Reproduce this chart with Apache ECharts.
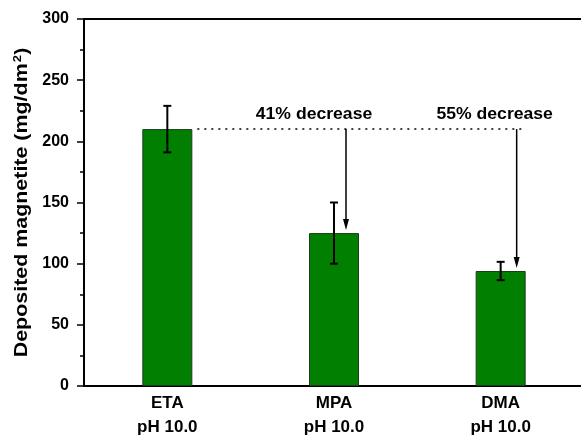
<!DOCTYPE html>
<html>
<head>
<meta charset="utf-8">
<script src="https://cdn.jsdelivr.net/npm/echarts@6/dist/echarts.min.js"></script>
<style>
html,body{margin:0;padding:0;background:#fff;}
#chart{width:581px;height:439px;}
</style>
</head>
<body>
<div id="chart"></div>
<script>
var categories = ['ETA', 'MPA', 'DMA'];
var phLabels = ['pH 10.0', 'pH 10.0', 'pH 10.0'];
var values = [210, 125, 94];
var errors = [19, 25, 7.5];
var annotations = ['41% decrease', '55% decrease'];
var yTicks = [0, 50, 100, 150, 200, 250, 300];
var yTitle = 'Deposited magnetite (mg/dm{sup|2})';

var FONT = '"Liberation Sans", Arial, Helvetica, sans-serif';
var chart = echarts.init(document.getElementById('chart'), null, {renderer: 'canvas'});

var catLabels = categories.map(function (c, i) { return c + '\n' + phLabels[i]; });
var errData = values.map(function (v, i) { return [i, v - errors[i], v + errors[i]]; });

var option = {
  animation: false,
  backgroundColor: '#fff',
  grid: {left: 84, top: 19, width: 500, bottom: 53, outerBoundsMode: 'none', containLabel: false,
    show: true, borderColor: '#000', borderWidth: 2, backgroundColor: 'transparent'},
  xAxis: {
    type: 'category',
    data: catLabels,
    boundaryGap: true,
    axisLine: {lineStyle: {color: '#000', width: 2}},
    axisTick: {show: false},
    axisLabel: {color: '#000', fontFamily: FONT, fontWeight: 'bold', fontSize: 17, lineHeight: 24, margin: 5}
  },
  yAxis: {
    type: 'value',
    min: yTicks[0], max: yTicks[yTicks.length - 1], interval: 50,
    axisLine: {show: true, lineStyle: {color: '#000', width: 2}},
    axisTick: {show: true, inside: false, length: 7, lineStyle: {color: '#000', width: 1.5}},
    minorTick: {show: true, splitNumber: 2, length: 4, lineStyle: {color: '#000', width: 1.5}},
    splitLine: {show: false},
    axisLabel: {color: '#000', fontFamily: FONT, fontWeight: 'bold', fontSize: 16, margin: 15}
  },
  series: [
    {
      type: 'bar',
      data: values,
      barWidth: 50,
      itemStyle: {color: '#007F00', borderColor: '#1a3d1a', borderWidth: 1},
      z: 2
    },
    {
      type: 'custom',
      data: errData,
      z: 5,
      renderItem: function (params, api) {
        var x = api.value(0);
        var lo = api.coord([x, api.value(1)]);
        var hi = api.coord([x, api.value(2)]);
        var cw = 4;
        var st = {stroke: '#000', lineWidth: 2};
        return {
          type: 'group',
          children: [
            {type: 'line', shape: {x1: lo[0], y1: lo[1], x2: hi[0], y2: hi[1]}, style: st},
            {type: 'line', shape: {x1: lo[0] - cw, y1: lo[1], x2: lo[0] + cw, y2: lo[1]}, style: st},
            {type: 'line', shape: {x1: hi[0] - cw, y1: hi[1], x2: hi[0] + cw, y2: hi[1]}, style: st}
          ]
        };
      }
    }
  ]
};
chart.setOption(option);

// annotations
var ref = values[0];
function px(i, v) { return chart.convertToPixel({xAxisIndex: 0, yAxisIndex: 0}, [i, v]); }
var pRef = px(0, ref);
var p1 = px(1, values[1]);
var p2 = px(2, values[2]);
var pTop = px(0, yTicks[yTicks.length - 1]);
var pBot = px(0, yTicks[0]);
var arrowX = [p1[0] + 12, p2[0] + 16];
var arrowEnd = [p1[1] - 3, p2[1] - 3];
var g = [];
g.push({type: 'line', shape: {x1: pRef[0] + 30, y1: pRef[1], x2: arrowX[1] + 8, y2: pRef[1]},
  style: {stroke: '#000', lineWidth: 1.5, lineDash: [2, 5]}, z: 10});
[0, 1].forEach(function (k) {
  var ax = arrowX[k], ay = arrowEnd[k];
  g.push({type: 'line', shape: {x1: ax, y1: pRef[1], x2: ax, y2: ay - 8}, style: {stroke: '#000', lineWidth: 1.5}, z: 10});
  g.push({type: 'polygon', shape: {points: [[ax - 3, ay - 11], [ax + 3, ay - 11], [ax, ay]]}, style: {fill: '#000'}, z: 10});
});
var textX = [p1[0] - 20, p2[0] - 6];
[0, 1].forEach(function (k) {
  g.push({type: 'text', x: textX[k], y: pRef[1] - 7, scaleX: 1.1,
    style: {text: annotations[k], fill: '#000', font: 'bold 16px ' + FONT, textAlign: 'center', textVerticalAlign: 'bottom'}, z: 10});
});
// y axis title (rotated)
g.push({type: 'text', x: 22, y: (pTop[1] + pBot[1]) / 2, rotation: Math.PI / 2, scaleX: 1.19,
  style: {text: yTitle, fill: '#000', font: 'bold 18px ' + FONT, textAlign: 'center', textVerticalAlign: 'middle',
    rich: {sup: {fontSize: 11, fontWeight: 'bold', fontFamily: FONT, fill: '#000', verticalAlign: 'top', padding: [0, 0, 9, 1]}}}, z: 10});
chart.setOption({graphic: g});
</script>
</body>
</html>
